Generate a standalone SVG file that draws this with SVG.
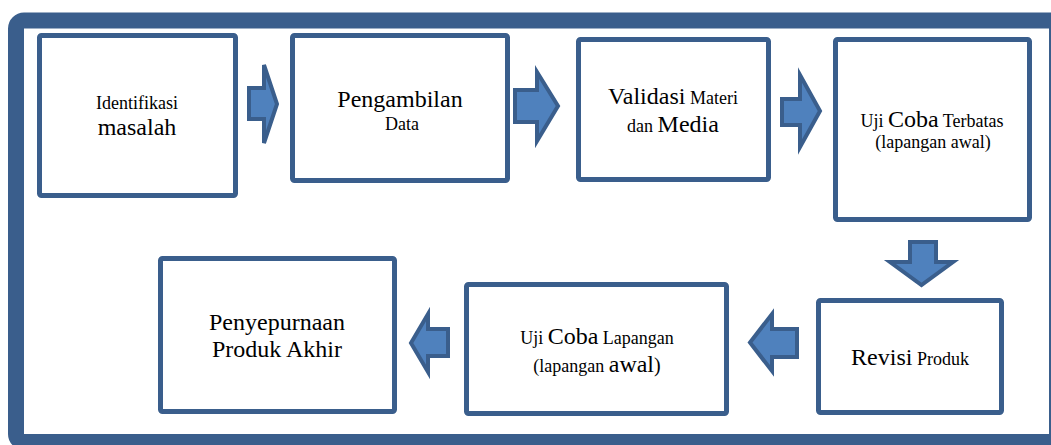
<svg xmlns="http://www.w3.org/2000/svg" width="1051" height="445" viewBox="0 0 1051 445">
<style>
.box{fill:#fff;stroke:#3a5e8c;stroke-width:5}
.arr{fill:#4f81bd;stroke:#3a5e8c;stroke-width:4;stroke-linejoin:miter}
.t{font-family:'Liberation Serif','Times New Roman',serif;fill:#000;text-anchor:middle}
.s{font-size:18px}
.l{font-size:24px}
</style>
<rect width="1051" height="445" fill="#fff"/>
<rect id="frame" x="16" y="20.5" width="1041" height="421.5" rx="8" fill="none" stroke="#3a5e8c" stroke-width="16"/>
<g id="connectors">
<polygon class="arr" points="249,88 264,88 264,65 277,104 264,143 264,119 249,119"/>
<polygon class="arr" points="515,90 537,90 537,72 558,106 537,141 537,122 515,122"/>
<polygon class="arr" points="782,99 800,99 800,75 820,111 800,147 800,125 782,125"/>
<polygon class="arr" points="910,242 936,242 936,262 953,262 921.5,285 890,262 910,262"/>
<polygon class="arr" points="797,329 772,329 772,314 750,342.5 772,371 772,357 797,357"/>
<polygon class="arr" points="448,329 428,329 428,314 411,343 428,372 428,356 448,356"/>
</g>
<g id="n1"><rect class="box" x="39.5" y="35.5" width="196" height="160" rx="2"/>
<text class="t s" x="137" y="109" font-family="Liberation Serif, serif">Identifikasi</text><text class="t l" x="137" y="135" font-family="Liberation Serif, serif">masalah</text></g>
<g id="n2"><rect class="box" x="292.5" y="35.5" width="215" height="145" rx="2"/>
<text class="t l" x="400" y="107" font-family="Liberation Serif, serif">Pengambilan</text><text class="t s" x="402" y="130" font-family="Liberation Serif, serif">Data</text></g>
<g id="n3"><rect class="box" x="578.5" y="39.5" width="190" height="140" rx="2"/>
<text class="t" x="673" y="104" font-family="Liberation Serif, serif"><tspan class="l">Validasi</tspan><tspan class="s"> Materi</tspan></text>
<text class="t" x="673" y="132" font-family="Liberation Serif, serif"><tspan class="s">dan </tspan><tspan class="l">Media</tspan></text></g>
<g id="n4"><rect class="box" x="835.5" y="39.5" width="194" height="180" rx="2"/>
<text class="t" x="932" y="127" font-family="Liberation Serif, serif"><tspan class="s">Uji </tspan><tspan class="l">Coba</tspan><tspan class="s"> Terbatas</tspan></text>
<text class="t s" x="933" y="148" font-family="Liberation Serif, serif">(lapangan awal)</text></g>
<g id="n5"><rect class="box" x="818.5" y="300.5" width="183" height="112" rx="2"/>
<text class="t" x="910" y="365" font-family="Liberation Serif, serif"><tspan class="l">Revisi</tspan><tspan class="s"> Produk</tspan></text></g>
<g id="n6"><rect class="box" x="466.5" y="284.5" width="260" height="129" rx="2"/>
<text class="t" x="597" y="344" font-family="Liberation Serif, serif"><tspan class="s">Uji </tspan><tspan class="l">Coba</tspan><tspan class="s"> Lapangan</tspan></text>
<text class="t" x="597" y="372" font-family="Liberation Serif, serif"><tspan class="s">(lapangan </tspan><tspan class="l">awal</tspan><tspan font-size="20">)</tspan></text></g>
<g id="n7"><rect class="box" x="160.5" y="258.5" width="234" height="153" rx="2"/>
<text class="t l" x="277" y="330" font-family="Liberation Serif, serif">Penyepurnaan</text><text class="t l" x="277" y="357" font-family="Liberation Serif, serif">Produk Akhir</text></g>
</svg>
